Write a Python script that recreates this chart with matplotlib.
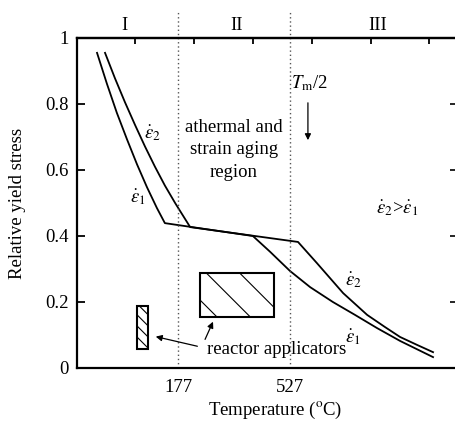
import matplotlib
matplotlib.use("Agg")
import matplotlib.pyplot as plt
from matplotlib.patches import Rectangle

plt.rcParams['font.family'] = ['Liberation Serif', 'DejaVu Serif']
plt.rcParams['mathtext.fontset'] = 'stix'
plt.rcParams['hatch.linewidth'] = 0.8

# curves (temperature in degC, relative yield stress)
eps1_T = [-76, -45, -14, 18, 49, 80, 111, 136,
          411, 465, 527, 590, 661, 730, 799, 871, 974]
eps1_y = [0.955, 0.861, 0.773, 0.692, 0.617, 0.548, 0.485, 0.439,
          0.400, 0.352, 0.294, 0.245, 0.200, 0.161, 0.121, 0.082, 0.033]
eps2_T = [-51, -20, 11, 43, 74, 105, 136, 168, 215,
          552, 611, 693, 768, 824, 871, 924, 974]
eps2_y = [0.955, 0.878, 0.806, 0.736, 0.671, 0.610, 0.553, 0.500, 0.427,
          0.382, 0.318, 0.227, 0.161, 0.124, 0.094, 0.070, 0.048]

region_bounds = [177, 527]
region_names = ['I', 'II', 'III']
region_label_T = [11, 361, 802]
top_ticks = [43, 227, 411, 596, 780, 961]
left_ticks = [0, 0.2, 0.4, 0.6, 0.8, 1]
left_labels = ['0', '0.2', '0.4', '0.6', '0.8', '1']
right_ticks = [0.2, 0.4, 0.6, 0.8]

# reactor applicator boxes: (T0, T1, y0, y1)
box_small = (49, 83, 0.058, 0.188)
box_large = (246, 477, 0.155, 0.288)

FS = 13.5

fig = plt.figure(figsize=(4.55, 4.22), dpi=100)
ax = fig.add_axes([77 / 455, 1 - 368 / 422, 378 / 455, 330 / 422])
ax.set_xlim(-138.6, 1042.6)
ax.set_ylim(0, 1)

ax.plot(eps1_T, eps1_y, color='k', lw=1.3)
ax.plot(eps2_T, eps2_y, color='k', lw=1.3)

for b in region_bounds:
    ax.plot([b, b], [0, 1.085], color='#555555', lw=1.0, ls=(0, (1, 2)), clip_on=False)

for name, t in zip(region_names, region_label_T):
    ax.text(t, 1.039, name, ha='center', va='center', fontsize=FS)

for (t0, t1, y0, y1), h in [(box_small, '\\\\\\'), (box_large, '\\')]:
    ax.add_patch(Rectangle((t0, y0), t1 - t0, y1 - y0, fill=False, hatch=h,
                           lw=1.5, edgecolor='k'))

ax.text(352, 0.661, 'athermal and\nstrain aging\nregion', ha='center', va='center',
        fontsize=FS, linespacing=1.4)
ax.text(589, 0.864, r'$T_{\rm m}$/2', ha='center', va='center', fontsize=FS)
ax.annotate('', xy=(583, 0.682), xytext=(583, 0.812),
            arrowprops=dict(arrowstyle='-|>', color='k', lw=0.9, mutation_scale=9))
ax.text(861, 0.485, r'$\dot{\varepsilon}_2$>$\dot{\varepsilon}_1$', ha='center', va='center',
        fontsize=FS)
ax.text(96, 0.712, r'$\dot{\varepsilon}_2$', ha='center', va='center', fontsize=FS)
ax.text(52, 0.518, r'$\dot{\varepsilon}_1$', ha='center', va='center', fontsize=FS)
ax.text(724, 0.267, r'$\dot{\varepsilon}_2$', ha='center', va='center', fontsize=FS)
ax.text(724, 0.094, r'$\dot{\varepsilon}_1$', ha='center', va='center', fontsize=FS)

ax.text(486, 0.055, 'reactor applicators', ha='center', va='center', fontsize=FS)
ax.annotate('', xy=(99, 0.097), xytext=(246, 0.064),
            arrowprops=dict(arrowstyle='-|>', color='k', lw=0.9, mutation_scale=9))
ax.annotate('', xy=(290, 0.148), xytext=(258, 0.079),
            arrowprops=dict(arrowstyle='-|>', color='k', lw=0.9, mutation_scale=9))

# axes styling
for s in ['left', 'bottom', 'top']:
    ax.spines[s].set_linewidth(1.6)
ax.spines['right'].set_visible(False)
ax.set_yticks(left_ticks, labels=left_labels)
ax.set_xticks(region_bounds, labels=[str(b) for b in region_bounds])
ax.tick_params(axis='y', direction='in', length=6, width=1.3, labelsize=FS, pad=6)
ax.tick_params(axis='x', length=0, labelsize=FS, pad=8)

top = ax.secondary_xaxis('top')
top.set_xticks(top_ticks, labels=[])
top.tick_params(direction='in', length=4.5, width=1.3)
top.spines['top'].set_linewidth(1.6)

right = ax.secondary_yaxis('right')
right.set_yticks(right_ticks, labels=[])
right.tick_params(direction='in', length=3.5, width=1.2)
right.spines['right'].set_visible(False)

ax.set_xlabel(r'Temperature ($^{\rm o}$C)', fontsize=FS)
ax.xaxis.set_label_coords(0.524, -0.098)
ax.set_ylabel('Relative yield stress', fontsize=FS)
ax.yaxis.set_label_coords(-0.135, 0.5)

fig.savefig('out.png', dpi=100)
